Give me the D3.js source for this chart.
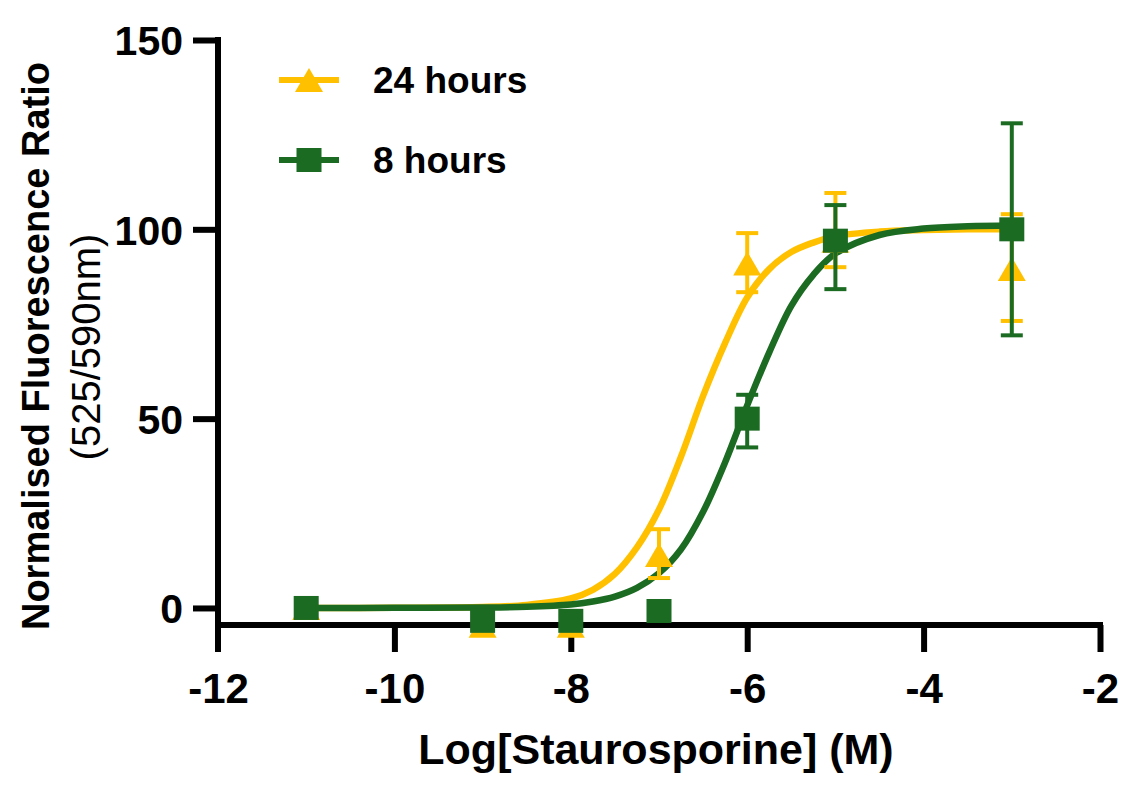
<!DOCTYPE html>
<html><head><meta charset="utf-8">
<script src="https://cdn.jsdelivr.net/npm/d3@7"></script>
<style>html,body{margin:0;padding:0;background:#fff;}svg{display:block;font-family:"Liberation Sans",Arial,sans-serif;}</style>
</head><body>
<svg id="chart" width="1143" height="800"></svg>
<script>
// ---- data ----
const concentrations = [-11, -9, -8, -7, -6, -5, -3];
const mean24h = [0, -4.7, -4.7, 14, 91, 97, 89.5];
const upper24h = [null, null, null, 20.8, 99, 109.6, 104];
const lower24h = [null, null, null, 7.9, 83.4, 90, 75.8];
const mean8h  = [0, -3.4, -3.4, -0.8, 50, 97, 100];
const upper8h = [null, null, null, null, 56.3, 106.4, 128];
const lower8h = [null, null, null, null, 42.4, 84.2, 72];
// fitted curves
const curveX   = [-11, -10, -9, -8.5, -8, -7.75, -7.5, -7.25, -7, -6.75, -6.5, -6.25, -6, -5.75, -5.5, -5.25, -5, -4.5, -4, -3.5, -3];
const curve24h = [0, 0.05, 0.25, 0.8, 2.5, 4.8, 9, 16, 26, 40, 56, 70, 82, 89.5, 94, 96.5, 98.2, 99.4, 99.8, 100, 100];
const curve8h  = [0, 0.03, 0.1, 0.3, 0.9, 1.7, 3.0, 5.3, 9.2, 15.5, 25.4, 38.5, 53.5, 67.5, 79.8, 88, 93.6, 98.5, 100.2, 100.8, 101];
const xTicks = [-12, -10, -8, -6, -4, -2];
const yTicks = [0, 50, 100, 150];
const seriesNames = ["24 hours", "8 hours"];

const YELLOW = "#FFC000", GREEN = "#1C6B22";
const svg = d3.select("#chart");
const x = d3.scaleLinear().domain([-12, -2]).range([218, 1100]);
const y = d3.scaleLinear().domain([-4.5, 150]).range([625, 40]);
const AW = 6;

// axes
const yAxis = d3.axisLeft(y).tickValues(yTicks).tickSize(25).tickPadding(10).tickFormat(d3.format("d"));
const gy = svg.append("g").attr("transform", "translate(218,0)").call(yAxis);
gy.select(".domain").remove();
gy.append("line").attr("x1", 0).attr("x2", 0).attr("y1", y(150) - AW/2).attr("y2", 652).attr("stroke", "#000").attr("stroke-width", AW);
gy.selectAll(".tick line").attr("stroke", "#000").attr("stroke-width", AW);
gy.selectAll(".tick text").attr("fill", "#000").style("font-size", "41px").style("font-weight", "bold").attr("dy", "0.36em");

const xAxis = d3.axisBottom(x).tickValues(xTicks).tickSize(27).tickFormat(d => "-" + Math.abs(d));
const gx = svg.append("g").attr("transform", "translate(0,625)").call(xAxis);
gx.select(".domain").remove();
gx.append("line").attr("x1", 215).attr("x2", x(-2) + AW/2).attr("y1", 0).attr("y2", 0).attr("stroke", "#000").attr("stroke-width", AW);
gx.selectAll(".tick line").attr("stroke", "#000").attr("stroke-width", AW);
gx.selectAll(".tick").filter(d => d === -12).select("line").remove();
gx.selectAll(".tick text").attr("fill", "#000").style("font-size", "42px").style("font-weight", "bold").attr("y", 78).attr("dy", null);

// axis titles
svg.append("text").attr("x", 656).attr("y", 764).attr("text-anchor", "middle")
  .style("font-size", "43px").style("font-weight", "bold").text("Log[Staurosporine] (M)");
svg.append("text").attr("transform", "translate(49,346) rotate(-90)").attr("text-anchor", "middle")
  .style("font-size", "38px").style("font-weight", "bold").text("Normalised Fluorescence Ratio");
svg.append("text").attr("transform", "translate(100,347) rotate(-90)").attr("text-anchor", "middle")
  .style("font-size", "40px").text("(525/590nm)");

// curves
const line = d3.line().x(d => x(d[0])).y(d => y(d[1])).curve(d3.curveCatmullRom);
svg.append("path").datum(curveX.map((c, i) => [c, curve24h[i]]))
  .attr("d", line).attr("fill", "none").attr("stroke", YELLOW).attr("stroke-width", 6.5);
svg.append("path").datum(curveX.map((c, i) => [c, curve8h[i]]))
  .attr("d", line).attr("fill", "none").attr("stroke", GREEN).attr("stroke-width", 6.5);

function drawSeries(means, uppers, lowers, color, shape) {
  const data = concentrations.map((c, i) => ({c, m: means[i], hi: uppers[i], lo: lowers[i]}));
  const g = svg.append("g");
  const eb = g.selectAll("g.eb").data(data.filter(d => d.hi !== null)).join("g");
  eb.append("line").attr("x1", d => x(d.c)).attr("x2", d => x(d.c))
    .attr("y1", d => y(d.hi)).attr("y2", d => y(d.lo)).attr("stroke", color).attr("stroke-width", 4);
  ["hi", "lo"].forEach(k => {
    eb.append("line").attr("x1", d => x(d.c) - 11).attr("x2", d => x(d.c) + 11)
      .attr("y1", d => y(d[k])).attr("y2", d => y(d[k])).attr("stroke", color).attr("stroke-width", 4);
  });
  if (shape === "triangle") {
    g.selectAll("path.sym").data(data).join("path")
      .attr("d", d => { const cx = x(d.c), cy = y(d.m); return `M${cx},${cy-12}L${cx+14},${cy+12}L${cx-14},${cy+12}Z`; })
      .attr("fill", color);
  } else {
    g.selectAll("rect.sym").data(data).join("rect")
      .attr("x", d => x(d.c) - 12.5).attr("y", d => y(d.m) - 12).attr("width", 25).attr("height", 24).attr("fill", color);
  }
}
drawSeries(mean24h, upper24h, lower24h, YELLOW, "triangle");
drawSeries(mean8h, upper8h, lower8h, GREEN, "square");

// legend
const leg = [{name: seriesNames[0], color: YELLOW, shape: "triangle", y: 80},
             {name: seriesNames[1], color: GREEN, shape: "square", y: 160}];
leg.forEach(l => {
  svg.append("line").attr("x1", 279).attr("x2", 339).attr("y1", l.y).attr("y2", l.y).attr("stroke", l.color).attr("stroke-width", 6);
  if (l.shape === "triangle") svg.append("path").attr("d", `M309,${l.y-12}L323,${l.y+12}L295,${l.y+12}Z`).attr("fill", l.color);
  else svg.append("rect").attr("x", 296.5).attr("y", l.y - 12).attr("width", 25).attr("height", 24).attr("fill", l.color);
  svg.append("text").attr("x", 373).attr("y", l.y + 13).style("font-size", "37px").style("font-weight", "bold").text(l.name);
});
</script>
</body></html>
